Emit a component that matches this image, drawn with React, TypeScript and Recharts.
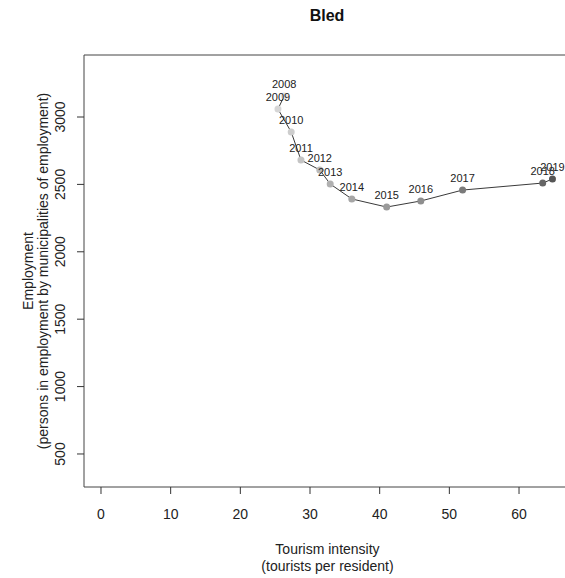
import React from 'react';
import { ComposedChart, Line, XAxis, YAxis, ReferenceArea, LabelList } from 'recharts';

// values (Bled, 2008-2019)
const years = [2008, 2009, 2010, 2011, 2012, 2013, 2014, 2015, 2016, 2017, 2018, 2019];
const intensity = [26.3, 25.4, 27.3, 28.7, 31.4, 32.9, 36.0, 41.0, 45.9, 51.9, 63.4, 64.8];
const employment = [3156, 3059, 2889, 2681, 2607, 2503, 2392, 2332, 2377, 2458, 2510, 2540];

const xTicks = [0, 10, 20, 30, 40, 50, 60];
const yTicks = [500, 1000, 1500, 2000, 2500, 3000];

// grey ramp, light -> dark by year
const pointColors = ['#e2e2e2', '#d6d6d6', '#cdcdcd', '#c4c4c4', '#bababa', '#b0b0b0', '#a6a6a6', '#9a9a9a', '#8e8e8e', '#7a7a7a', '#666666', '#555555'];

const X_DOMAIN: [number, number] = [-2.44, 67.46];
const Y_DOMAIN: [number, number] = [255, 3460];

const FONT = '"Liberation Sans", Arial, sans-serif';

const data = years.map((year, i) => ({
  year,
  intensity: intensity[i],
  employment: employment[i],
}));

const XTick = ({ x, y, payload }: any) => (
  <text x={x} y={y + 20} textAnchor="middle" dominantBaseline="central" fontSize={14} fill="#222" fontFamily={FONT}>
    {payload.value}
  </text>
);

const YTick = ({ x, y, payload }: any) => (
  <text
    x={x - 17}
    y={y}
    transform={`rotate(-90, ${x - 17}, ${y})`}
    textAnchor="middle"
    dominantBaseline="central"
    fontSize={14}
    fill="#222"
    fontFamily={FONT}
  >
    {payload.value}
  </text>
);

const YTitle = (props: any) => {
  const cy = props.viewBox.y + props.viewBox.height / 2;
  return (
    <g fontSize={14} fill="#222" fontFamily={FONT}>
      <text x={28} y={cy} transform={`rotate(-90, 28, ${cy})`} textAnchor="middle" dominantBaseline="central">
        Employment
      </text>
      <text x={43} y={cy} transform={`rotate(-90, 43, ${cy})`} textAnchor="middle" dominantBaseline="central">
        (persons in employment by municipalities of employment)
      </text>
    </g>
  );
};

const XTitle = (props: any) => {
  const cx = props.viewBox.x + props.viewBox.width / 2;
  const top = props.viewBox.y;
  return (
    <g fontSize={14} fill="#222" fontFamily={FONT}>
      <text x={cx} y={top + 62} textAnchor="middle" dominantBaseline="central">
        Tourism intensity
      </text>
      <text x={cx} y={top + 79} textAnchor="middle" dominantBaseline="central">
        (tourists per resident)
      </text>
    </g>
  );
};

const YearDot = (props: any) => {
  const { cx, cy, index } = props;
  return <circle key={index} cx={cx} cy={cy} r={3.5} fill={pointColors[index]} stroke="none" />;
};

export default function App() {
  return (
    <div style={{ position: 'absolute', left: 0, top: 0, width: 565, height: 578, overflow: 'hidden', background: '#fff' }}>
      <div
        style={{
          position: 'absolute',
          left: 327,
          top: 7,
          transform: 'translateX(-50%)',
          fontFamily: FONT,
          fontWeight: 'bold',
          fontSize: 16,
          color: '#111',
        }}
      >
        Bled
      </div>
      <ComposedChart width={580} height={578} data={data} margin={{ top: 55, right: 9, bottom: 0, left: 0 }}>
        <XAxis
          type="number"
          dataKey="intensity"
          domain={X_DOMAIN}
          ticks={xTicks}
          allowDataOverflow
          axisLine={false}
          tickSize={7}
          tickMargin={0}
          tickLine={{ stroke: '#333' }}
          tick={<XTick />}
          height={91}
          label={<XTitle />}
        />
        <YAxis
          type="number"
          dataKey="employment"
          domain={Y_DOMAIN}
          ticks={yTicks}
          allowDataOverflow
          axisLine={false}
          tickSize={7}
          tickMargin={0}
          tickLine={{ stroke: '#333' }}
          tick={<YTick />}
          width={84}
          label={<YTitle />}
        />
        <ReferenceArea
          x1={X_DOMAIN[0]}
          x2={X_DOMAIN[1]}
          y1={Y_DOMAIN[0]}
          y2={Y_DOMAIN[1]}
          fill="none"
          stroke="#444"
          strokeWidth={1}
          ifOverflow="visible"
        />
        <Line
          type="linear"
          dataKey="employment"
          stroke="#3a3a3a"
          strokeWidth={1}
          dot={<YearDot />}
          activeDot={false}
          isAnimationActive={false}
        >
          <LabelList dataKey="year" position="top" offset={8} fontSize={11} fill="#222" fontFamily={FONT} />
        </Line>
      </ComposedChart>
    </div>
  );
}
